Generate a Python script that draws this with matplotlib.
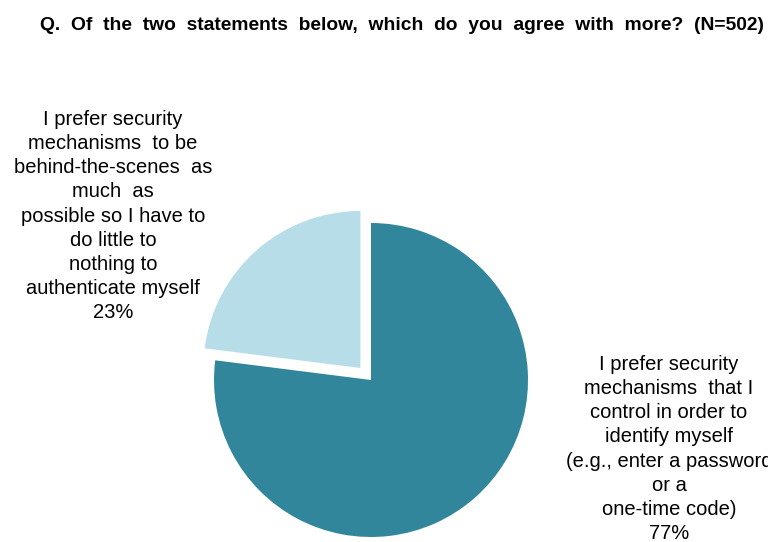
import matplotlib
matplotlib.use("Agg")
import matplotlib.pyplot as plt

plt.rcParams['font.family'] = ['Liberation Sans', 'DejaVu Sans']

TITLE = "Q.  Of  the  two  statements  below,  which  do  you  agree  with  more?  (N=502)"
shares = [77, 23]
answers = [
    "I prefer security\nmechanisms  that I\ncontrol in order to\nidentify myself\n(e.g., enter a password\nor a\none-time code)",
    "I prefer security\nmechanisms  to be\nbehind-the-scenes  as\nmuch  as\npossible so I have to\ndo little to\nnothing to\nauthenticate myself",
]
colors = ["#31869B", "#B7DEE8"]

W, H = 768, 542
fig = plt.figure(figsize=(W / 100, H / 100), dpi=100)
ax = fig.add_axes([0, 0, 1, 1])

# pie is drawn in pixel units so it can run off the bottom edge
cx, cy, r = 371, H - 380, 157
ax.pie(shares, colors=colors, startangle=90, counterclock=False,
       explode=[0, 16], center=(cx, cy), radius=r, frame=True,
       wedgeprops=dict(linewidth=0))
ax.axis('off')
ax.set_xlim(0, W)
ax.set_ylim(0, H)
ax.set_aspect('equal')

label_pos = [(113, H - 216), (669, H - 449)][::-1]
for (x, y), text, pct in zip(label_pos, answers, shares):
    ax.text(x, y, f"{text}\n{pct}%", ha='center', va='center',
            fontsize=14.5, linespacing=1.34, color='#000000', clip_on=True)

fig.text(0.523, 1 - 25 / H, TITLE, ha='center', va='center',
         fontsize=13.9, fontweight='bold')

fig.savefig("out.png", dpi=100)
